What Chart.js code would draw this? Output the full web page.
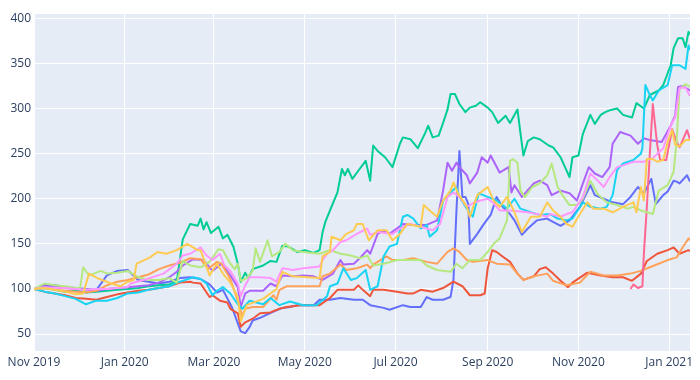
<!DOCTYPE html>
<html><head><meta charset="utf-8">
<script src="https://cdn.jsdelivr.net/npm/chart.js@4/dist/chart.umd.min.js"></script>
<style>html,body{margin:0;padding:0;background:#fff}#wrap{width:700px;height:380px}</style>
</head><body><div id="wrap"><canvas id="c" width="700" height="380"></canvas></div>
<script>
// x values are days since 2019-11-01; each series has its own sample days
const blueDays = [0,7,14,21,28,35,42,49,56,63,70,77,84,91,98,105,112,118,123,127,133,139,142,145,147,152,161,167,172,177,188,192,199,206,215,221,226,235,239,248,253,260,264,268,275,280,282,284,286,288,290,292,293,298,302,307,311,315,320,323,328,332,338,345,347,354,360,367,374,377,383,389,396,401,406,410,415,418,423,426,430,432,434,439,441];
const blue = [100,104,104,102,101,100,99,115,120,121,110,108,106,108,112,113,111,105,96,99,80,53,51,58,65,68,75,79,80,82,82,88,88,90,88,88,82,79,77,82,80,80,91,88,88,91,110,187,253,202,202,194,150,161,171,182,202,191,183,176,160,167,176,178,176,170,176,191,215,204,200,196,194,202,213,206,222,194,204,208,220,219,217,226,219];

const redDays = [0,7,14,21,28,35,42,49,56,63,70,77,84,91,98,105,107,112,118,120,125,130,132,137,139,142,147,152,159,165,170,179,192,199,204,215,218,221,226,228,235,244,251,255,260,268,275,282,288,293,300,303,305,308,311,315,320,325,329,336,340,344,349,354,359,362,372,381,389,396,402,408,412,419,426,430,434,440,441];
const red = [100,97,95,93,90,89,88,91,94,96,98,99,101,103,107,108,107,106,91,93,87,85,78,73,58,63,67,73,74,78,80,82,82,90,99,99,104,99,92,99,99,97,95,95,99,97,101,108,103,93,93,95,123,143,141,136,130,117,110,114,122,124,117,109,102,107,118,115,113,113,109,117,131,139,143,146,139,143,142];

const greenDays = [0,7,14,21,28,35,42,49,56,63,70,77,84,91,96,100,105,110,112,114,116,119,124,127,130,134,137,139,142,144,147,154,159,163,167,171,177,182,188,192,194,196,199,204,207,209,211,214,218,223,226,228,231,236,241,246,248,253,258,263,265,268,272,275,278,280,283,286,290,293,297,300,305,308,312,317,320,325,327,329,332,336,340,346,349,354,357,360,362,366,369,374,377,381,384,387,392,396,402,405,410,414,420,423,428,430,433,436,438,440,441];
const green = [100,101,99,97,98,96,97,98,99,100,101,103,104,105,109,155,172,170,178,166,174,162,169,156,160,147,128,108,118,112,122,126,131,130,148,147,141,143,140,143,163,175,187,207,233,226,233,222,231,242,220,259,253,246,235,261,268,266,256,273,281,268,270,284,299,316,316,305,296,301,303,307,301,296,284,292,284,299,273,248,264,268,266,259,257,246,235,224,246,248,272,293,283,293,296,298,300,293,290,306,300,315,320,326,348,367,378,378,368,385,382];

const purpleDays = [0,7,14,21,28,35,42,49,56,63,70,77,84,91,96,100,107,114,120,126,132,137,139,142,145,154,159,163,167,174,181,188,194,201,206,208,215,219,224,226,231,235,239,248,255,264,271,275,278,281,284,286,291,293,298,301,305,307,313,319,321,323,328,336,340,345,348,354,360,365,369,373,377,382,387,389,394,401,406,410,414,422,428,431,433,436,441];
const purple = [100,103,102,101,100,99,98,100,101,102,103,104,107,113,119,126,133,132,120,128,115,102,80,95,98,98,106,103,115,114,115,114,110,117,132,127,128,134,143,139,161,165,161,172,171,171,176,209,240,231,240,235,226,217,229,246,240,248,229,235,207,215,202,217,220,215,204,209,206,198,217,235,228,224,235,261,274,270,261,267,265,263,281,292,324,325,320];

const orangeDays = [0,7,14,21,28,35,42,49,56,63,70,77,84,91,98,105,112,117,123,126,132,137,140,142,147,154,161,163,165,170,192,194,199,206,210,217,224,226,228,237,241,248,255,264,271,278,282,286,291,295,305,311,320,325,329,336,345,349,358,367,374,383,392,401,408,414,426,432,436,440,441];
const orange = [100,101,99,98,97,96,98,104,108,110,113,116,122,126,129,134,133,122,130,128,111,87,70,78,80,80,93,88,99,103,103,114,117,127,121,123,127,123,127,136,132,132,134,130,128,141,145,141,132,130,132,128,127,117,110,114,117,109,104,107,119,115,115,117,120,124,132,135,146,156,154];

const cyanDays = [0,7,14,21,28,35,42,49,56,63,70,77,84,91,96,100,107,112,116,120,123,127,132,137,140,145,154,159,165,172,181,190,197,199,204,208,213,217,223,226,231,235,239,244,248,251,255,260,264,266,271,275,280,284,286,291,295,299,305,311,318,323,327,334,340,347,352,358,362,369,374,381,385,389,392,396,403,408,409,411,414,416,420,426,429,434,438,440,441];
const cyan = [100,97,95,92,89,83,87,87,90,95,96,99,101,103,107,109,113,111,106,93,98,102,95,83,78,87,83,90,82,86,82,82,92,103,106,123,110,112,121,99,103,136,147,150,180,182,178,167,171,158,165,198,207,213,202,189,180,206,202,198,189,200,189,185,182,183,178,176,178,196,191,189,191,204,232,239,243,250,256,326,315,309,320,326,348,348,344,370,365];

// Pink series only exists from mid-December 2020
const pinkDays = [401,403,406,409,410,412,414,416,419,421,425,429,432,434,439,441];
const pink = [100,105,101,103,139,191,250,305,259,243,243,277,263,257,276,266];

const lightGreenDays = [0,7,14,21,28,31,33,37,45,49,56,63,70,77,84,91,96,100,105,112,118,124,127,132,135,137,139,143,147,149,152,157,160,165,169,174,181,192,199,206,213,219,224,228,235,244,260,264,271,280,284,288,293,300,305,309,313,318,320,322,325,327,330,335,340,345,348,352,356,360,365,369,374,379,385,392,399,403,408,412,416,420,426,430,432,434,438,441];
const lightGreen = [100,106,104,103,101,101,124,115,120,117,118,120,113,110,110,112,107,131,126,124,130,144,143,128,122,128,109,112,120,145,130,154,136,141,150,143,141,139,143,139,137,134,137,126,128,132,132,126,121,119,128,123,132,132,141,150,156,176,242,244,240,209,202,213,217,226,239,213,202,193,193,200,220,205,196,193,189,191,187,185,183,209,215,230,263,322,327,324];

const lightPinkDays = [0,7,14,21,28,35,42,49,56,63,65,76,87,96,100,105,112,116,120,125,128,132,137,139,142,145,152,159,163,167,174,181,192,194,197,201,206,210,217,224,226,231,241,248,253,260,268,273,278,282,286,291,295,300,305,309,313,320,332,338,345,347,354,358,362,369,374,379,383,387,392,396,403,410,416,423,428,431,434,438,441];
const lightPink = [100,102,101,101,100,99,100,100,101,102,106,111,117,128,137,139,146,137,132,139,126,120,106,92,104,113,113,112,108,123,121,123,125,132,139,143,152,154,161,167,160,163,161,169,172,169,165,172,202,207,202,191,195,198,200,195,187,187,185,183,180,183,180,183,185,202,228,220,213,224,235,237,241,241,245,256,281,290,323,323,314];

const yellowDays = [0,7,14,21,28,33,37,44,52,58,63,67,69,78,83,89,96,103,110,112,118,123,127,132,137,139,143,154,163,167,174,192,194,199,200,206,210,215,217,221,225,231,237,241,246,251,260,262,266,271,275,280,282,285,291,293,298,305,309,313,318,323,328,334,340,345,349,354,358,362,367,372,376,383,389,396,403,405,408,410,412,416,419,423,426,429,431,434,438,441];
const yellow = [100,101,99,97,94,95,117,111,106,103,108,110,128,135,141,139,143,150,143,143,115,128,117,107,91,64,82,89,100,119,114,112,136,141,158,154,161,165,172,172,154,165,165,154,161,172,169,193,187,180,198,209,218,206,191,180,204,213,198,191,202,185,163,180,180,196,187,180,172,169,183,196,189,189,185,191,196,185,213,198,244,244,241,243,263,276,260,258,265,265];

const xTickDays = [0,61,121,182,243,305,366,427];
const xTickLabels = ['Nov 2019','Jan 2020','Mar 2020','May 2020','Jul 2020','Sep 2020','Nov 2020','Jan 2021'];
const yTicks = [50,100,150,200,250,300,350,400];

const series = [
  {x: blueDays, vals: blue, color: '#636EFA'},
  {x: redDays, vals: red, color: '#EF553B'},
  {x: greenDays, vals: green, color: '#00CC96'},
  {x: purpleDays, vals: purple, color: '#AB63FA'},
  {x: orangeDays, vals: orange, color: '#FFA15A'},
  {x: cyanDays, vals: cyan, color: '#19D3F3'},
  {x: pinkDays, vals: pink, color: '#FF6692'},
  {x: lightGreenDays, vals: lightGreen, color: '#B6E880'},
  {x: lightPinkDays, vals: lightPink, color: '#FF97FF'},
  {x: yellowDays, vals: yellow, color: '#FECB52'}
];

const datasets = series.map((s, i) => ({
  data: s.vals.map((v, j) => ({x: s.x[j], y: v})),
  borderColor: s.color,
  backgroundColor: s.color,
  borderWidth: 2,
  pointRadius: 0,
  tension: 0,
  borderJoinStyle: 'round',
  order: series.length - i
}));

const bg = {id: 'bg', beforeDraw(chart) {
  const {ctx, chartArea: a} = chart;
  ctx.save();
  ctx.fillStyle = '#fff'; ctx.fillRect(0, 0, chart.width, chart.height);
  ctx.fillStyle = '#E5ECF6'; ctx.fillRect(a.left, a.top, a.right - a.left, a.bottom - a.top);
  ctx.restore();
}};

Chart.defaults.font.family = '"Open Sans", Verdana, Arial, sans-serif';
Chart.defaults.font.size = 12;
Chart.defaults.color = '#2a3f5f';

new Chart(document.getElementById('c'), {
  type: 'line',
  data: {datasets},
  plugins: [bg],
  options: {
    responsive: false, animation: false, devicePixelRatio: 1,
    layout: {padding: {top: 14, right: 10, left: 0, bottom: 0}},
    plugins: {legend: {display: false}, tooltip: {enabled: false}},
    scales: {
      x: {
        type: 'linear', min: 0, max: 441,
        afterBuildTicks: s => { s.ticks = xTickDays.map(v => ({value: v})); },
        afterFit: s => { s.height = 29; },
        ticks: {autoSkip: false, maxRotation: 0, padding: 4,
          callback: v => xTickLabels[xTickDays.indexOf(v)]},
        grid: {color: '#ffffff', lineWidth: 1, drawTicks: false},
        border: {display: false}
      },
      y: {
        type: 'linear', min: 31.2, max: 404.8,
        afterBuildTicks: s => { s.ticks = yTicks.map(v => ({value: v})); },
        afterFit: s => { s.width = 34; },
        ticks: {padding: 3},
        grid: {color: '#ffffff', lineWidth: 1, drawTicks: false},
        border: {display: false}
      }
    }
  }
});
</script></body></html>
